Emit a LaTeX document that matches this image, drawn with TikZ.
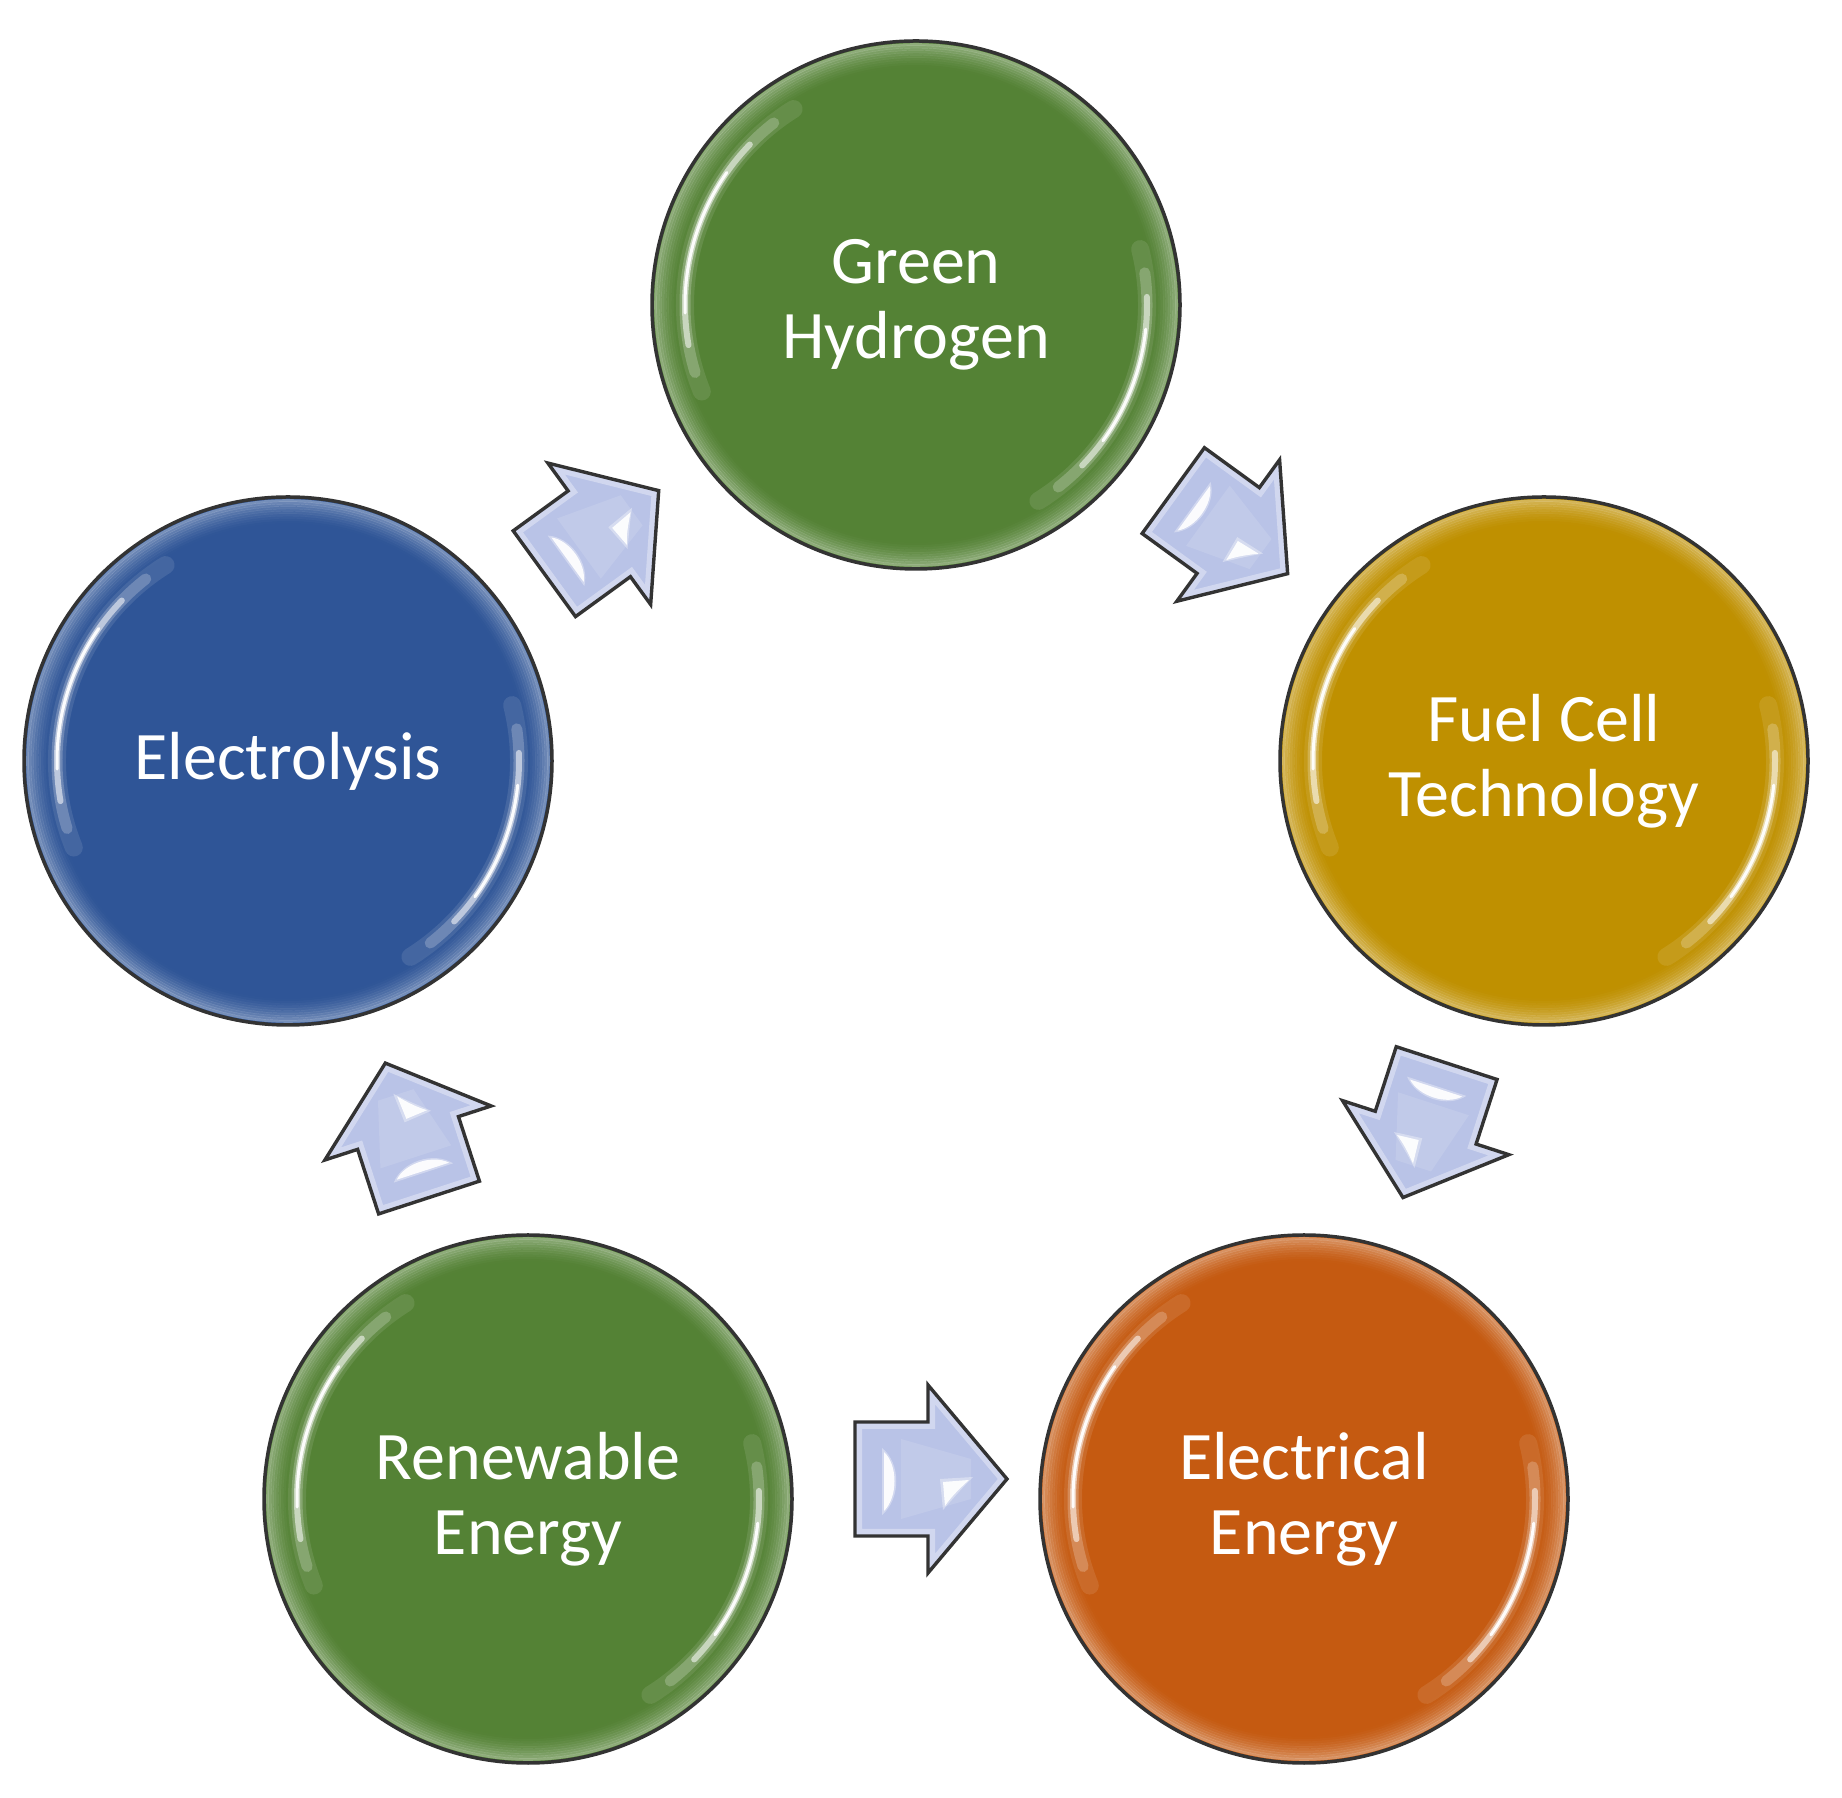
\documentclass[tikz,border=0pt]{standalone}
\usepackage{fontspec}
\setmainfont{Carlito}
\usetikzlibrary{calc}
\definecolor{cgreen}{HTML}{548235}
\definecolor{cblue}{HTML}{2F5597}
\definecolor{cgold}{HTML}{BF9000}
\definecolor{corange}{HTML}{C55A11}
\definecolor{arrfill}{HTML}{B9C3E7}
\definecolor{edgegray}{HTML}{333333}
\tikzset{
  bubble/.style={circle, minimum size=528pt, inner sep=0pt, draw=edgegray, line width=3.5pt,
    text=white, align=center, font=\fontsize{68}{75}\selectfont},
  shine/.style={white, line cap=round},
  blockarrow/.style={fill=arrfill},
  arrowedge/.style={draw=edgegray, line width=3.4pt, line join=miter},
}
\def\arrpath{(-76,57) -- (-3,57) -- (-3,94) -- (76,0) -- (-3,-94) -- (-3,-57) -- (-76,-57) -- cycle}
\newcommand\bubble[5]{%
  \node[bubble, fill=#4] (#1) at (#2,#3) {#5};
  \begin{scope}[shift={(#1.center)}]
    \foreach \i in {0,...,9}{
      \pgfmathsetmacro\op{0.34*(1-\i/10)^1.6}
      \draw[white, opacity=\op, line width=2.6pt] (0,0) circle[radius=260.5-2.4*\i];
    }
    % upper-left shine
    \draw[shine, line width=18pt, opacity=0.10] (122:231) arc[start angle=122, end angle=202, radius=231];
    \draw[shine, line width=11pt, opacity=0.22] (128:231) arc[start angle=128, end angle=197, radius=231];
    \draw[shine, line width=6pt, opacity=0.55] (136:231) arc[start angle=136, end angle=190, radius=231];
    \draw[shine, line width=3pt, opacity=0.95] (145:231) arc[start angle=145, end angle=182, radius=231];
    % lower-right shine
    \draw[shine, line width=18pt, opacity=0.10] (-58:231) arc[start angle=-58, end angle=14, radius=231];
    \draw[shine, line width=11pt, opacity=0.22] (-52:231) arc[start angle=-52, end angle=8, radius=231];
    \draw[shine, line width=6pt, opacity=0.55] (-44:231) arc[start angle=-44, end angle=2, radius=231];
    \draw[shine, line width=3pt, opacity=0.95] (-36:231) arc[start angle=-36, end angle=-6, radius=231];
  \end{scope}}
\newcommand\flowarrow[4]{% position, rotation, scale, name
  \coordinate (#4) at (#1);
  \begin{scope}[shift={(#4)}, rotate=#2, scale=#3]
    \path[blockarrow] \arrpath;
    \begin{scope}
      \clip \arrpath;
      \draw[white, opacity=0.35, line width=14pt] \arrpath;
      \fill[white, opacity=0.12] (-30,40) -- (40,20) -- (40,-20) -- (-30,-40) -- cycle;
    \end{scope}
    \path[arrowedge] \arrpath;
    \fill[white, opacity=0.35] (-49,31) .. controls (-30,16) and (-30,-20) .. (-49,-36) -- cycle;
    \fill[white, opacity=0.92] (-47,27) .. controls (-33,14) and (-33,-18) .. (-47,-32) -- cycle;
    \fill[white, opacity=0.35] (9,0) -- (42,2) .. controls (30,-10) and (20,-22) .. (12,-31) -- cycle;
    \fill[white, opacity=0.92] (12,-3) -- (38,-1) .. controls (28,-10) and (20,-18) .. (14,-27) -- cycle;
  \end{scope}}
\begin{document}
\begin{tikzpicture}[x=1pt, y=1pt]
  \fill[white] (0,0) rectangle (1842,1797);
  \useasboundingbox (0,0) rectangle (1842,1797);
  \coordinate (cyc) at (916,832);

  \bubble{gh}{916}{1492}{cgreen}{Green\\Hydrogen}
  \bubble{fc}{1544}{1036}{cgold}{Fuel Cell\\Technology}
  \bubble{ee}{1304}{298}{corange}{Electrical\\Energy}
  \bubble{re}{528}{298}{cgreen}{Renewable\\Energy}
  \bubble{el}{288}{1036}{cblue}{Electrolysis}

  \flowarrow{$(cyc)+(126:535)$}{36}{0.93}{a1}
  \flowarrow{$(cyc)+(54:535)$}{-36}{0.93}{a2}
  \flowarrow{$(cyc)+(-18:535)$}{-108}{0.93}{a3}
  \flowarrow{$(cyc)+(198:535)$}{108}{0.93}{a4}
  \flowarrow{931,318}{0}{1}{a5}
\end{tikzpicture}
\end{document}
